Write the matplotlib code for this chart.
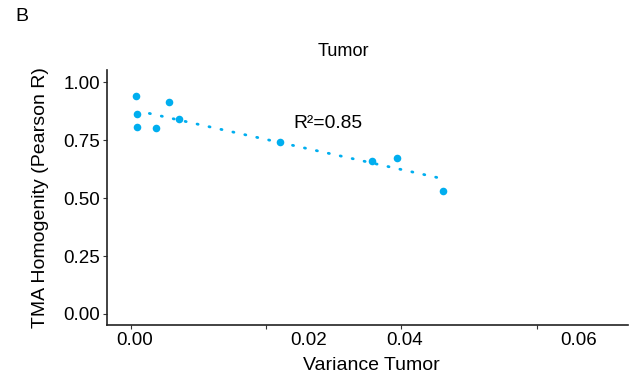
import numpy as np
import matplotlib.pyplot as plt

plt.rcParams['font.family'] = ['Liberation Sans', 'DejaVu Sans']

# data
variance = [0.0008, 0.0009, 0.0010, 0.0037, 0.0057, 0.0072, 0.0221, 0.0357, 0.0394, 0.0461]
pearson_r = [0.942, 0.864, 0.806, 0.803, 0.914, 0.840, 0.742, 0.662, 0.673, 0.532]
x_tick_marks = [0.0, 0.02, 0.04, 0.06]
x_label_pos = [0.00053, 0.02635, 0.04053, 0.06625]
x_tick_labels = ['0.00', '0.02', '0.04', '0.06']
y_ticks = [0.0, 0.25, 0.5, 0.75, 1.0]
y_tick_labels = ['0.00', '0.25', '0.50', '0.75', '1.00']

col = '#00AEEF'

fig = plt.figure(figsize=(6.3, 3.84), dpi=100)
ax = fig.add_axes([106.7 / 630, 1 - 325 / 384, (628 - 106.7) / 630, (325 - 70) / 384])

x = np.array(variance)
y = np.array(pearson_r)
ax.scatter(x, y, s=30, color=col, zorder=3, linewidths=0)

# linear fit
slope, icpt = np.polyfit(x, y, 1)
xf = np.linspace(0.00275, 0.0455, 50)
ax.plot(xf, slope * xf + icpt, color=col, lw=2.0, linestyle=(0, (0.4, 4.0)),
        dash_capstyle='round', zorder=2)
ax.text(0.0241, 0.823, 'R²=0.85', fontsize=13.9, ha='left', va='center')

ax.set_xlim(-0.00355, 0.0735)
ax.set_ylim(-0.0475, 1.053)

ax.set_yticks(y_ticks)
ax.set_yticklabels(y_tick_labels, fontsize=13.5)
ax.set_xticks(x_label_pos)
ax.set_xticklabels(x_tick_labels, fontsize=13.5)
ax.tick_params(axis='x', which='major', length=0, pad=5.3)
ax.set_xticks(x_tick_marks, minor=True)
ax.tick_params(axis='x', which='minor', length=3, width=0.8, color='#333333')
ax.tick_params(axis='y', length=3, width=0.8, color='#333333', pad=2)

for s in ['top', 'right']:
    ax.spines[s].set_visible(False)
for s in ['left', 'bottom']:
    ax.spines[s].set_linewidth(1.2)
    ax.spines[s].set_color('#222222')

fig.text(41 / 630, 1 - 198 / 384, 'TMA Homogenity (Pearson R)', fontsize=14,
         rotation=90, ha='center', va='center')
fig.text(371 / 630, 1 - 365.7 / 384, 'Variance Tumor', fontsize=14, ha='center', va='center')
fig.text(343 / 630, 1 - 51.7 / 384, 'Tumor', fontsize=13.1, ha='center', va='center')
fig.text(15 / 630, 1 - 16.3 / 384, 'B', fontsize=14, ha='left', va='center')

fig.savefig('out.png', dpi=100)
